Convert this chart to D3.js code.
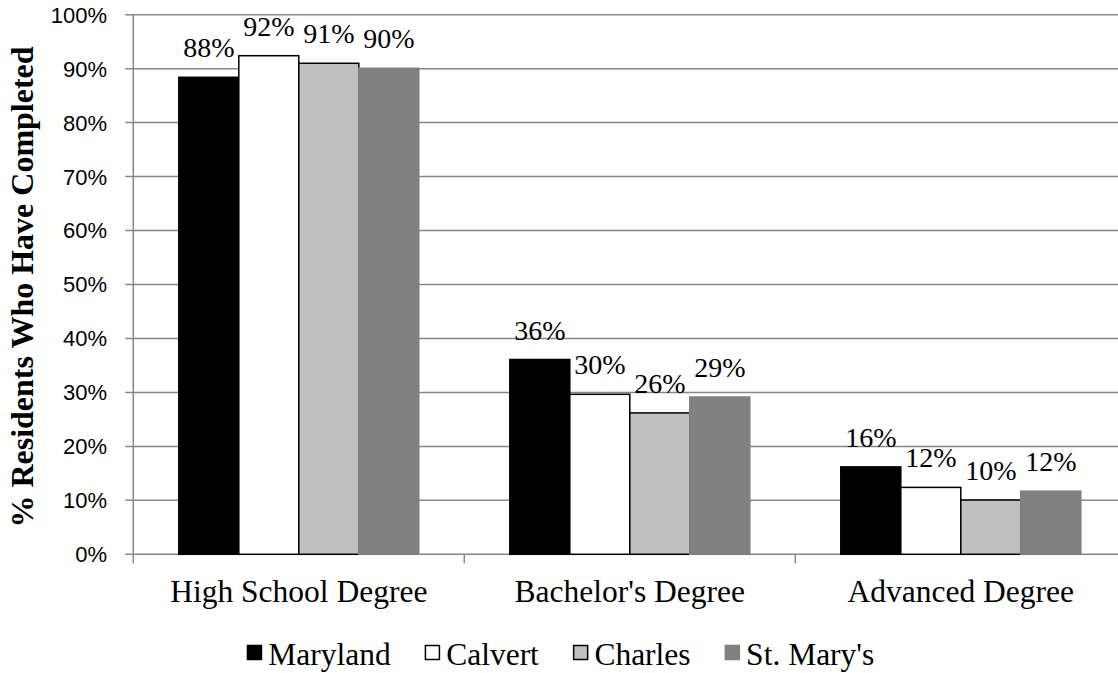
<!DOCTYPE html>
<html>
<head>
<meta charset="utf-8">
<script src="https://cdnjs.cloudflare.com/ajax/libs/d3/7.8.5/d3.min.js"></script>
<style>
  body { margin: 0; background: #fff; }
  svg { display: block; }
</style>
</head>
<body>
<div id="chart"></div>
<script>
// data
var categories = ["High School Degree", "Bachelor's Degree", "Advanced Degree"];
var seriesNames = ["Maryland", "Calvert", "Charles", "St. Mary's"];
var maryland = [0.884, 0.361, 0.162];
var calvert = [0.924, 0.2965, 0.124];
var charles = [0.910, 0.262, 0.1006];
var stMarys = [0.9007, 0.2915, 0.117];
var valueLabels = [
  ["88%", "36%", "16%"],
  ["92%", "30%", "12%"],
  ["91%", "26%", "10%"],
  ["90%", "29%", "12%"]
];
var yTicks = [0, 0.1, 0.2, 0.3, 0.4, 0.5, 0.6, 0.7, 0.8, 0.9, 1.0];

// colors
var fills = ['#000000', '#ffffff', '#c0c0c0', '#808080'];
var strokes = ['#000000', '#000000', '#000000', '#808080'];
var gridColor = '#878787';

var chartWidth = 1118, chartHeight = 673;
var plotLeft = 133.3, plotTop = 14.7, plotBottom = 554.3, plotRight = 1126.3;

var svg = d3.select("#chart")
  .append("svg")
  .attr("width", chartWidth)
  .attr("height", chartHeight);

var y = d3.scaleLinear().domain([0, 1]).range([plotBottom, plotTop]);
var x = d3.scaleBand().domain(categories).range([plotLeft, plotRight]).paddingInner(0).paddingOuter(0);
var xInner = d3.scaleBand().domain(seriesNames)
  .range([45.5, x.bandwidth() - 45.5]).paddingInner(0);

//gridlines
svg.append('g')
  .selectAll('line')
  .data(yTicks)
  .enter().append('line')
  .attr('x1', plotLeft - 8)
  .attr('x2', plotRight)
  .attr('y1', function(d) { return y(d); })
  .attr('y2', function(d) { return y(d); })
  .style('stroke', gridColor)
  .style('stroke-width', 1.5);

// y axis line
svg.append('line')
  .attr('x1', plotLeft).attr('x2', plotLeft)
  .attr('y1', plotTop).attr('y2', plotBottom + 9)
  .style('stroke', gridColor)
  .style('stroke-width', 1.5);

// category ticks
svg.append('g')
  .selectAll('line')
  .data(categories.slice(1))
  .enter().append('line')
  .attr('x1', function(d) { return x(d); })
  .attr('x2', function(d) { return x(d); })
  .attr('y1', plotBottom)
  .attr('y2', plotBottom + 9)
  .style('stroke', gridColor)
  .style('stroke-width', 1.5);

// y tick labels
svg.append('g')
  .selectAll('text')
  .data(yTicks)
  .enter().append('text')
  .attr('x', 107)
  .attr('y', function(d) { return y(d); })
  .attr('dy', '0.36em')
  .attr('text-anchor', 'end')
  .style('font-family', '"Liberation Sans", Arial, sans-serif')
  .style('font-size', '22px')
  .style('fill', '#000')
  .text(function(d) { return Math.round(d * 100) + '%'; });

// y axis title
svg.append('text')
  .attr('transform', 'translate(33,287) rotate(-90)')
  .attr('text-anchor', 'middle')
  .style('font-family', '"Liberation Serif", "Times New Roman", serif')
  .style('font-weight', 'bold')
  .style('font-size', '32px')
  .text('% Residents Who Have Completed');

// bars
var allSeries = [maryland, calvert, charles, stMarys];
var groups = svg.selectAll('.series')
  .data(allSeries)
  .enter().append('g')
  .attr('class', 'series');

groups.selectAll('rect')
  .data(function(d, i) {
    return d.map(function(v, j) { return { s: i, c: categories[j], v: v }; });
  })
  .enter().append('rect')
  .attr('x', function(d) { return x(d.c) + xInner(seriesNames[d.s]); })
  .attr('y', function(d) { return y(d.v); })
  .attr('width', xInner.bandwidth())
  .attr('height', function(d) { return plotBottom - y(d.v); })
  .style('fill', function(d) { return fills[d.s]; })
  .style('stroke', function(d) { return strokes[d.s]; })
  .style('stroke-width', 1.5);

// value labels
groups.selectAll('text')
  .data(function(d, i) {
    return d.map(function(v, j) { return { s: i, c: categories[j], v: v, t: valueLabels[i][j] }; });
  })
  .enter().append('text')
  .attr('x', function(d) { return x(d.c) + xInner(seriesNames[d.s]) + xInner.bandwidth() / 2; })
  .attr('y', function(d) { return y(d.v) - 20; })
  .attr('text-anchor', 'middle')
  .style('font-family', '"Liberation Serif", "Times New Roman", serif')
  .style('font-size', '28px')
  .text(function(d) { return d.t; });

// category labels
svg.append('g')
  .selectAll('text')
  .data(categories)
  .enter().append('text')
  .attr('x', function(d) { return x(d) + x.bandwidth() / 2; })
  .attr('y', 602)
  .attr('text-anchor', 'middle')
  .style('font-family', '"Liberation Serif", "Times New Roman", serif')
  .style('font-size', '31.5px')
  .text(function(d) { return d; });

// legend
var legend = svg.append('g').attr('class', 'legend');
var lx = 246.7;
seriesNames.forEach(function(name, i) {
  legend.append('rect')
    .attr('x', lx + 0.75)
    .attr('y', 645.5)
    .attr('width', 14)
    .attr('height', 14)
    .style('fill', fills[i])
    .style('stroke', strokes[i])
    .style('stroke-width', 1.5);
  var t = legend.append('text')
    .attr('x', lx + 21.5)
    .attr('y', 665)
    .style('font-family', '"Liberation Serif", "Times New Roman", serif')
    .style('font-size', '31.5px')
    .text(name);
  lx = lx + 21.5 + t.node().getComputedTextLength() + 34;
});
</script>
</body>
</html>
